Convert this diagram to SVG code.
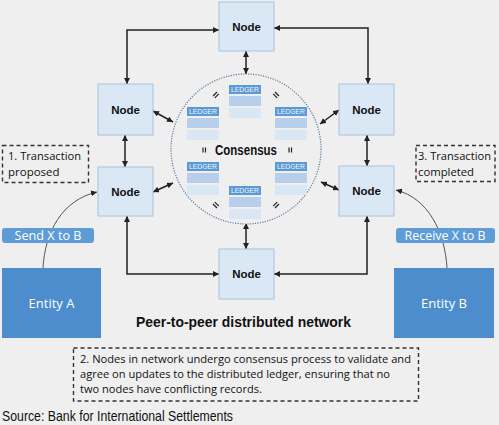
<svg xmlns="http://www.w3.org/2000/svg" width="499" height="425" viewBox="0 0 499 425">
<defs>
<style>
.node rect{fill:#dae7f4;stroke:#a9c2dc;stroke-width:1}
.node text{font-family:"Liberation Sans",Arial,sans-serif;font-weight:bold;font-size:11.5px;fill:#111;text-anchor:middle}
.conn{fill:none;stroke:#222;stroke-width:1.5;marker-start:url(#ah);marker-end:url(#ah)}
.curve{fill:none;stroke:#555;stroke-width:1;marker-end:url(#ah)}
.hd{fill:#5b9bd5}
.r2{fill:#b7cfea}
.r3{fill:#d9e6f4}
.lt{font-family:"Liberation Sans",Arial,sans-serif;font-size:7.5px;fill:#eef4fb;text-anchor:middle}
.eq{stroke:#222;stroke-width:1.2;fill:none}
.dash{fill:none;stroke:#333;stroke-width:1.4;stroke-dasharray:4 3}
.t{font-family:"Open Sans","Liberation Sans",sans-serif;font-size:11.5px;fill:#111}
.ent{fill:#4d8dcd}
.lab{fill:#5d9cd6}
.wt{font-family:"Open Sans","Liberation Sans",sans-serif;fill:#fff;text-anchor:middle}
</style>
<marker id="ah" viewBox="0 0 10 10" refX="10" refY="5" markerWidth="6" markerHeight="6" markerUnits="userSpaceOnUse" orient="auto-start-reverse">
<path d="M0,0 L10,5 L0,10 z" fill="#222"/>
</marker>
<g id="ledger">
<rect class="hd" x="0" y="0" width="32" height="9"/>
<text class="lt" x="16" y="7.2" textLength="28" lengthAdjust="spacingAndGlyphs">LEDGER</text>
<rect class="r2" x="0" y="11" width="32" height="10"/>
<rect class="r3" x="0" y="23" width="32" height="10"/>
</g>
</defs>
<rect width="499" height="425" fill="#efefef"/>

<g id="connectors">
<path class="conn" d="M219,30 H127 V84"/>
<path class="conn" d="M274,28 H368 V84"/>
<path class="conn" d="M127,216 V274 H219"/>
<path class="conn" d="M274,274 H367 V216"/>
<path class="conn" d="M125,135 V167"/>
<path class="conn" d="M367,135 V166"/>
<path class="conn" d="M246,51 V74"/>
<path class="conn" d="M246,223 V249"/>
<path class="conn" d="M153,111 L173,122"/>
<path class="conn" d="M153,192 L173,183"/>
<path class="conn" d="M339,110 L320,124"/>
<path class="conn" d="M339,190 L321,182"/>
<path class="curve" d="M43,268 C45,232 62,200 97,192"/>
<path class="curve" d="M447,268 C445,232 428,198 396,190"/>
</g>

<g id="consensus">
<circle cx="246" cy="149" r="75" fill="#efefef" stroke="#5f7f9f" stroke-width="1.2" stroke-dasharray="1.2 1.3"/>
<use href="#ledger" x="229" y="85"/>
<use href="#ledger" x="187" y="107"/>
<use href="#ledger" x="275" y="107"/>
<use href="#ledger" x="187" y="162"/>
<use href="#ledger" x="275" y="162"/>
<use href="#ledger" x="229" y="186"/>
<text x="246" y="154.5" font-family="Liberation Sans,Arial,sans-serif" font-weight="bold" font-size="14.5" text-anchor="middle" fill="#111" textLength="62" lengthAdjust="spacingAndGlyphs">Consensus</text>
<path class="eq" d="M203,147.5 v5 M205.5,147.5 v5"/>
<path class="eq" d="M289,147.5 v5 M291.5,147.5 v5"/>
<path class="eq" d="M213,96 l4,-4 M214.8,97.8 l4,-4"/>
<path class="eq" d="M275,92 l4,4 M273.2,93.8 l4,4"/>
<path class="eq" d="M213,204 l4,4 M214.8,202.2 l4,4"/>
<path class="eq" d="M275,208 l4,-4 M273.2,206.2 l4,-4"/>
</g>

<g id="node-top" class="node"><rect x="219" y="2" width="55" height="49"/><text x="246.5" y="30.5">Node</text></g>
<g id="node-left-upper" class="node"><rect x="98" y="84" width="55" height="51"/><text x="125.5" y="113.5">Node</text></g>
<g id="node-left-lower" class="node"><rect x="98" y="167" width="55" height="49"/><text x="125.5" y="195.5">Node</text></g>
<g id="node-right-upper" class="node"><rect x="339" y="84" width="55" height="51"/><text x="366.5" y="113.5">Node</text></g>
<g id="node-right-lower" class="node"><rect x="339" y="166" width="55" height="50"/><text x="366.5" y="195">Node</text></g>
<g id="node-bottom" class="node"><rect x="219" y="249" width="55" height="50"/><text x="246.5" y="278">Node</text></g>

<g id="entity-a">
<rect class="ent" x="2" y="268" width="99" height="70"/>
<text class="wt" x="51.5" y="308" font-size="13">Entity A</text>
</g>
<g id="send-label">
<rect class="lab" x="2" y="228" width="92" height="15" rx="3"/>
<text class="wt" x="48" y="240" font-size="12" textLength="67" lengthAdjust="spacingAndGlyphs">Send X to B</text>
</g>
<g id="entity-b">
<rect class="ent" x="394" y="268" width="100" height="70"/>
<text class="wt" x="444" y="308" font-size="13">Entity B</text>
</g>
<g id="receive-label">
<rect class="lab" x="396" y="228" width="99" height="15" rx="3"/>
<text class="wt" x="445" y="240" font-size="12" textLength="81" lengthAdjust="spacingAndGlyphs">Receive X to B</text>
</g>

<g id="note-1">
<rect class="dash" x="2.5" y="145.5" width="86" height="37"/>
<text class="t" x="8" y="160" textLength="73" lengthAdjust="spacingAndGlyphs">1. Transaction</text>
<text class="t" x="8" y="176">proposed</text>
</g>
<g id="note-3">
<rect class="dash" x="416" y="145.5" width="79" height="36"/>
<text class="t" x="418" y="160" textLength="73" lengthAdjust="spacingAndGlyphs">3. Transaction</text>
<text class="t" x="418" y="176" textLength="56" lengthAdjust="spacingAndGlyphs">completed</text>
</g>

<text x="243.5" y="327" font-family="Liberation Sans,Arial,sans-serif" font-weight="bold" font-size="15" text-anchor="middle" fill="#111" textLength="215" lengthAdjust="spacingAndGlyphs">Peer-to-peer distributed network</text>

<g id="note-2">
<rect class="dash" x="73.5" y="348" width="345" height="53"/>
<text class="t" x="80" y="363" textLength="331" lengthAdjust="spacingAndGlyphs">2. Nodes in network undergo consensus process to validate and</text>
<text class="t" x="80" y="378" textLength="310" lengthAdjust="spacingAndGlyphs">agree on updates to the distributed ledger, ensuring that no</text>
<text class="t" x="80" y="393" textLength="182" lengthAdjust="spacingAndGlyphs">two nodes have conflicting records.</text>
</g>

<text x="2" y="421" font-family="Liberation Sans,Arial,sans-serif" font-size="15" fill="#111" textLength="231" lengthAdjust="spacingAndGlyphs">Source: Bank for International Settlements</text>
</svg>
